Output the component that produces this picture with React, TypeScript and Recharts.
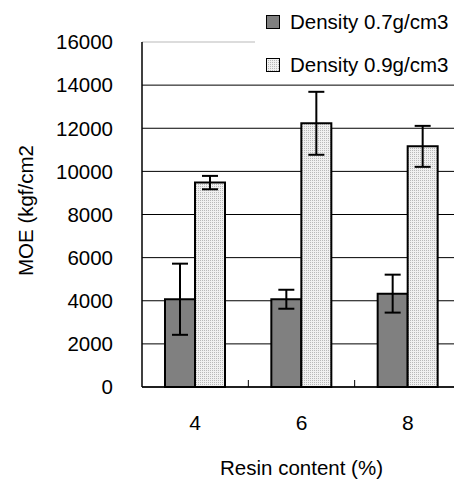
import React from "react";
import {
  BarChart,
  Bar,
  XAxis,
  YAxis,
  CartesianGrid,
  ErrorBar,
  ReferenceLine,
} from "recharts";

const resinContent = ["4", "6", "8"];
const density07 = [4070, 4070, 4330];
const density07Err = [1650, 440, 880];
const density09 = [9480, 12230, 11160];
const density09Err = [310, 1460, 950];
const yTicks = [0, 2000, 4000, 6000, 8000, 10000, 12000, 14000, 16000];

const seriesNames = ["Density 0.7g/cm3", "Density 0.9g/cm3"];

const FONT = "'Liberation Sans', Arial, sans-serif";
const CHART_W = 475;
const CHART_H = 480;
const MARGIN = { top: 42, right: 14, bottom: 0, left: 0 };
const Y_AXIS_W = 142;
const X_TICK_MARGIN = 28;

const data = resinContent.map((r, i) => ({
  resin: r,
  d07: density07[i],
  d07err: density07Err[i],
  d09: density09[i],
  d09err: density09Err[i],
}));

const bandWidth =
  (CHART_W - MARGIN.left - MARGIN.right - Y_AXIS_W) / resinContent.length;

// eslint-disable-next-line @typescript-eslint/no-explicit-any
function XTick({ x, y, payload, index }: any) {
  const axisY = y - X_TICK_MARGIN;
  const isLast = index >= resinContent.length - 1;
  return (
    <g>
      {!isLast && (
        <line
          x1={x + bandWidth / 2}
          x2={x + bandWidth / 2}
          y1={axisY}
          y2={axisY - 7}
          stroke="#000"
          strokeWidth={1}
        />
      )}
      <text
        x={x}
        y={y}
        dy="0.72em"
        textAnchor="middle"
        fill="#000"
        fontSize={21}
        fontFamily={FONT}
      >
        {payload.value}
      </text>
    </g>
  );
}

// eslint-disable-next-line @typescript-eslint/no-explicit-any
function YLabel({ viewBox }: any) {
  const cx = viewBox.x + 25;
  const cy = viewBox.y + viewBox.height / 2 - 4;
  return (
    <text
      x={cx}
      y={cy}
      transform={`rotate(-90, ${cx}, ${cy})`}
      textAnchor="middle"
      dominantBaseline="central"
      fill="#000"
      fontSize={20.5}
      fontFamily={FONT}
    >
      MOE (kgf/cm2
    </text>
  );
}

function Swatch({ light }: { light: boolean }) {
  return (
    <svg width={14} height={14} style={{ display: "block" }}>
      <defs>
        <pattern id="legendDots" width={2} height={2} patternUnits="userSpaceOnUse">
          <rect width={2} height={2} fill="#f0f0f0" />
          <rect width={1} height={1} fill="#b8b8b8" />
        </pattern>
      </defs>
      <rect
        x={0.5}
        y={0.5}
        width={13}
        height={13}
        fill={light ? "url(#legendDots)" : "#808080"}
        stroke="#000"
        strokeWidth={1}
      />
    </svg>
  );
}

function LegendBox() {
  return (
    <div
      style={{
        position: "absolute",
        left: 255,
        top: 0,
        width: 199,
        height: 84,
        background: "#fff",
        fontFamily: FONT,
        fontSize: 20.5,
        color: "#000",
      }}
    >
      {seriesNames.map((name, i) => (
        <div
          key={name}
          style={{
            position: "absolute",
            left: 11,
            top: i === 0 ? 10 : 53,
            height: 24,
            display: "flex",
            alignItems: "center",
            whiteSpace: "nowrap",
          }}
        >
          <Swatch light={i === 1} />
          <span style={{ marginLeft: 10 }}>{name}</span>
        </div>
      ))}
    </div>
  );
}

export default function App() {
  return (
    <div
      style={{
        position: "fixed",
        left: 0,
        top: 0,
        width: 454,
        height: 480,
        overflow: "hidden",
        background: "#fff",
      }}
    >
      <BarChart
        width={CHART_W}
        height={CHART_H}
        data={data}
        margin={MARGIN}
        barGap={0}
        barCategoryGap={23}
      >
        <defs>
          <pattern id="lightDots" width={2} height={2} patternUnits="userSpaceOnUse">
            <rect width={2} height={2} fill="#f0f0f0" />
            <rect width={1} height={1} fill="#b8b8b8" />
          </pattern>
        </defs>
        <CartesianGrid vertical={false} stroke="#000" strokeWidth={1} />
        <ReferenceLine y={16000} stroke="#dcdcdc" strokeWidth={2} />
        <XAxis
          dataKey="resin"
          height={93}
          axisLine={{ stroke: "#000", strokeWidth: 1.5 }}
          tickLine={false}
          tickSize={0}
          tickMargin={X_TICK_MARGIN}
          tick={<XTick />}
          label={{
            value: "Resin content (%)",
            position: "insideBottom",
            offset: 5,
            fill: "#000",
            fontSize: 20.5,
            fontFamily: FONT,
          }}
        />
        <YAxis
          width={Y_AXIS_W}
          domain={[0, 16000]}
          ticks={yTicks}
          interval={0}
          axisLine={{ stroke: "#000", strokeWidth: 1.5 }}
          tickLine={false}
          tickSize={0}
          tickMargin={29}
          tick={{ fill: "#000", fontSize: 20.5, fontFamily: FONT }}
          label={<YLabel />}
        />
        <Bar
          dataKey="d07"
          name={seriesNames[0]}
          fill="#808080"
          stroke="#000"
          strokeWidth={2}
          isAnimationActive={false}
        >
          <ErrorBar dataKey="d07err" width={8} stroke="#000" strokeWidth={2} />
        </Bar>
        <Bar
          dataKey="d09"
          name={seriesNames[1]}
          fill="url(#lightDots)"
          stroke="#000"
          strokeWidth={2}
          isAnimationActive={false}
        >
          <ErrorBar dataKey="d09err" width={8} stroke="#000" strokeWidth={2} />
        </Bar>
      </BarChart>
      <LegendBox />
    </div>
  );
}
